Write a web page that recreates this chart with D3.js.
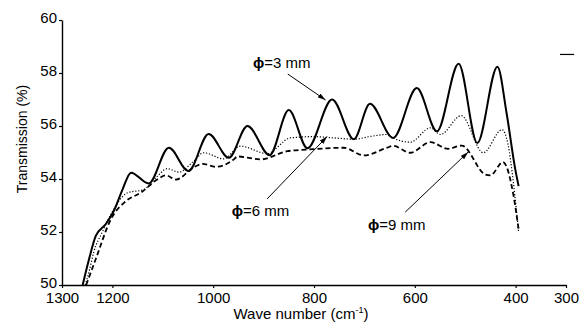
<!DOCTYPE html>
<html>
<head>
<meta charset="utf-8">
<script src="https://cdn.jsdelivr.net/npm/d3@7"></script>
<style>
  body { margin: 0; background: #fff; }
  svg { display: block; font-family: "Liberation Sans", Arial, sans-serif; }
</style>
</head>
<body>
<svg id="chart" width="586" height="331"></svg>
<script>
// transmission vs nombre d'onde, 3 diamètres
var xTicks = [1300, 1200, 1000, 800, 600, 400, 300];
var yTicks = [50, 52, 54, 56, 58, 60];

// [wave number, transmission]
var phi3 = [
  [1259, 50.0], [1246, 51.0], [1233, 51.85], [1213, 52.3], [1197, 52.8], [1180, 53.6],
  [1163, 54.24], [1128, 53.83], [1088, 55.18], [1049, 54.3], [1009, 55.7], [969, 54.8],
  [932, 56.0], [888, 54.9], [850, 56.6], [813, 55.16], [764, 57.0], [721, 55.5],
  [689, 56.84], [643, 55.55], [596, 57.43], [556, 55.8], [513, 58.35], [476, 55.36],
  [436, 58.24], [418, 56.5], [401, 54.4], [394, 53.73]
];
var phi6 = [
  [1254, 50.0], [1245, 50.6], [1237, 51.24], [1220, 52.0], [1203, 52.67], [1170, 53.48],
  [1138, 53.6], [1111, 54.1], [1091, 54.39], [1068, 54.26], [1039, 54.67], [1019, 54.99],
  [979, 54.76], [946, 55.24], [893, 54.96], [847, 55.55], [800, 55.6], [760, 55.55],
  [720, 55.5], [690, 55.6], [655, 55.68], [643, 55.55], [609, 55.39], [569, 55.93],
  [549, 55.68], [508, 56.39], [464, 54.99], [427, 55.86], [415, 55.3], [404, 53.8], [394, 51.98]
];
var phi9 = [
  [1252, 50.0], [1233, 50.98], [1203, 52.48], [1173, 53.17], [1144, 53.48], [1111, 53.98],
  [1094, 54.14], [1074, 53.98], [1038, 54.45], [1021, 54.57], [995, 54.46], [959, 54.74],
  [952, 54.85], [906, 54.74], [853, 55.05], [813, 55.11], [741, 55.18], [701, 54.89],
  [655, 55.18], [643, 55.25], [609, 54.99], [569, 55.39], [534, 55.14], [507, 55.26],
  [460, 54.17], [450, 54.14], [425, 54.64], [404, 53.36], [394, 52.1]
];

// étiquettes : texte, position du texte, queue et pointe de la flèche (unités des données)
var labels = [
  { name: "3", text: [921, 58.2], tail: [852, 57.96], tip: [777, 56.98] },
  { name: "6", text: [963, 52.6], tail: [893, 53.25], tip: [774, 55.6] },
  { name: "9", text: [693, 52.08], tail: [619, 52.75], tip: [494, 55.02] }
];

var svg = d3.select("#chart");
var x = d3.scaleLinear().domain([1300, 300]).range([62, 566]);
var y = d3.scaleLinear().domain([50, 60]).range([285, 20]);

var defs = svg.append("defs");
defs.append("marker")
  .attr("id", "arrow")
  .attr("viewBox", "0 0 10 6")
  .attr("refX", 10).attr("refY", 3)
  .attr("markerWidth", 8).attr("markerHeight", 5)
  .attr("markerUnits", "userSpaceOnUse")
  .attr("orient", "auto")
  .append("path")
  .attr("d", "M0,0 L10,3 L0,6 Z")
  .attr("fill", "#000");

// axes
var gx = svg.append("g").attr("transform", `translate(0,${y(50)})`)
  .call(d3.axisBottom(x).tickValues(xTicks).tickFormat(d3.format("d"))
    .tickSize(3).tickPadding(3).tickSizeOuter(0));
var gy = svg.append("g").attr("transform", `translate(${x(1300)},0)`)
  .call(d3.axisLeft(y).tickValues(yTicks).tickSize(3).tickPadding(2).tickSizeOuter(0));
[gx, gy].forEach(g => {
  g.select(".domain").attr("stroke", "#000").attr("stroke-width", 1.4);
  g.selectAll(".tick line").attr("stroke", "#000").attr("stroke-width", 1.2);
  g.selectAll("text").attr("font-size", 15).attr("fill", "#000")
    .attr("font-family", "'Liberation Sans', Arial, sans-serif");
});
gx.selectAll("text").attr("dy", "0.8em");
gy.selectAll("text").attr("dy", "0.15em");

svg.append("text")
  .attr("transform", "translate(27,139) rotate(-90)")
  .attr("text-anchor", "middle")
  .attr("font-size", 14)
  .text("Transmission (%)");

var xt = svg.append("text")
  .attr("x", 301).attr("y", 319)
  .attr("text-anchor", "middle")
  .attr("font-size", 15)
  .text("Wave number (cm");
xt.append("tspan").attr("font-size", 9).attr("dy", -6).text("-1");
xt.append("tspan").attr("dy", 6).text(")");

// courbes
var line = d3.line()
  .x(d => x(d[0]))
  .y(d => y(d[1]))
  .curve(d3.curveMonotoneX);

svg.append("path").datum(phi9)
  .attr("d", line).attr("fill", "none").attr("stroke", "#000")
  .attr("stroke-width", 1.8).attr("stroke-dasharray", "5,3");
svg.append("path").datum(phi6)
  .attr("d", line).attr("fill", "none").attr("stroke", "#000")
  .attr("stroke-width", 1.2).attr("stroke-dasharray", "1.2,1.8");
svg.append("path").datum(phi3)
  .attr("d", line).attr("fill", "none").attr("stroke", "#000")
  .attr("stroke-width", 2);

// annotations
labels.forEach(l => {
  svg.append("line")
    .attr("x1", x(l.tail[0])).attr("y1", y(l.tail[1]))
    .attr("x2", x(l.tip[0])).attr("y2", y(l.tip[1]))
    .attr("stroke", "#000").attr("stroke-width", 1)
    .attr("marker-end", "url(#arrow)");
  var t = svg.append("text")
    .attr("x", x(l.text[0])).attr("y", y(l.text[1]))
    .attr("font-size", 15);
  t.append("tspan").attr("font-weight", "bold").text("ϕ");
  t.append("tspan").text("=" + l.name + " mm");
});

// petit trait parasite à droite
svg.append("line")
  .attr("x1", x(312)).attr("x2", x(284))
  .attr("y1", y(58.7)).attr("y2", y(58.7))
  .attr("stroke", "#000").attr("stroke-width", 1.2);
</script>
</body>
</html>
